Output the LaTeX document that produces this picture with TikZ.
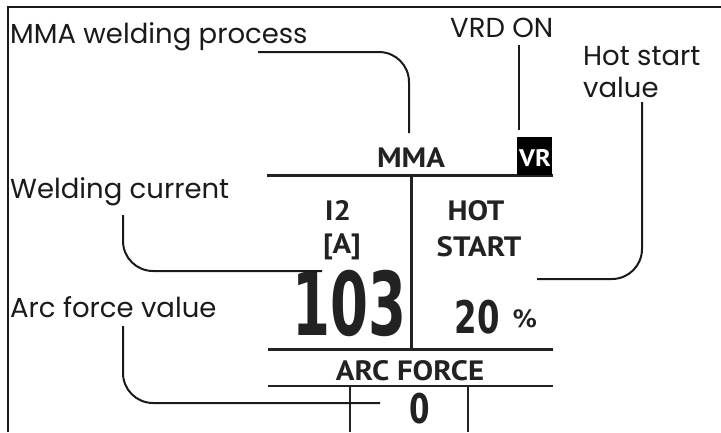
\documentclass[tikz,border=0pt]{standalone}
\usepackage{fontspec}
\setmainfont{Poppins}
\newfontfamily\lcdfont{PT Sans}[FakeStretch=1.1]
\newfontfamily\segfont{DejaVu Sans}
\definecolor{ink}{HTML}{1A1A1A}
\definecolor{lcdink}{HTML}{222222}
\begin{document}
\begin{tikzpicture}[x=1pt,y=-1pt,
  lbl/.style={anchor=base west,inner sep=0pt,text=ink,font=\fontsize{27.5}{32}\selectfont},
  lcdtxt/.style={anchor=base,inner sep=0pt,text=lcdink,font=\lcdfont\bfseries\fontsize{28}{30}\selectfont},
  segtxt/.style={anchor=base,inner sep=0pt,text=lcdink},
  conn/.style={draw=ink,line width=2pt,rounded corners=30pt},
  frame/.style={draw=ink,line width=2.5pt},
  lcdline/.style={draw=lcdink,line width=3pt},
  thinline/.style={draw=lcdink,line width=2pt}]
\useasboundingbox (0,0) rectangle (721,432);
% outer frame (cropped)
\draw[frame] (8,432) -- (8,7) -- (721,7);
% labels
\node[lbl] (mmaLbl) at (10,43) {MMA welding process};
\node[lbl] (vrdLbl) at (450,37) {VRD ON};
\node[lbl] (hotLbl) at (583,65) {Hot start};
\node[lbl] (valLbl) at (583,97) {value};
\node[lbl] (weldLbl) at (10,198) {Welding current};
\node[lbl] (arcLbl) at (10,317) {Arc force value};
% LCD lines
\draw[lcdline] (267,175) -- (553,175);
\draw[lcdline] (411,175) -- (411,349);
\draw[lcdline] (268,349) -- (553,349);
\draw[thinline] (268,386) -- (553,386);
\draw[thinline] (350,386) -- (350,432);
\draw[thinline] (468,386) -- (468,432);
% LCD texts
\node[lcdtxt] (mma) at (411,167) {MMA};
\node[fill=black,minimum width=35pt,minimum height=38pt,inner sep=0pt,anchor=north west] (vr) at (517,137) {};
\node[anchor=base,inner sep=0pt,text=white,font=\lcdfont\bfseries\fontsize{24}{26}\selectfont] (vrt) at (535,166) {VR};
\node[lcdtxt] (i2) at (338,220) {I2};
\node[lcdtxt] (amp) at (342,253) {[A]};
\node[lcdtxt] (hot) at (476,220) {HOT};
\node[lcdtxt] (start) at (479,256) {START};
\node[lcdtxt] (arcf) at (410,380) {ARC FORCE};
\node[segtxt,font=\segfont\bfseries\fontsize{88}{90}\selectfont] (cur) at (349,335) {\scalebox{0.62}[1]{103}};
\node[segtxt,font=\segfont\bfseries\fontsize{45}{48}\selectfont] (hs) at (477,333) {\scalebox{0.72}[1]{20}};
\node[segtxt,font=\segfont\bfseries\fontsize{24}{26}\selectfont] (pct) at (525,327) {\%};
\node[segtxt,font=\segfont\bfseries\fontsize{41}{44}\selectfont] (af) at (420,423) {\scalebox{0.72}[1]{0}};
% connector end points
\coordinate (mmaA) at (258,52);
\coordinate (mmaB) at (409,133);
\coordinate (vrdA) at (519,45);
\coordinate (vrdB) at (519,130);
\coordinate (hotA) at (642,102);
\coordinate (hotB) at (537,279);
\coordinate (weldA) at (123,215);
\coordinate (weldB) at (322,271);
\coordinate (arcA) at (123,326);
\coordinate (arcB) at (380,403);
% connectors
\draw[conn] (mmaA) -| (mmaB);
\draw[conn] (vrdA) -- (vrdB);
\draw[conn] (hotA) |- (hotB);
\draw[conn] (weldA) |- (weldB);
\draw[conn] (arcA) |- (arcB);
\end{tikzpicture}
\end{document}
